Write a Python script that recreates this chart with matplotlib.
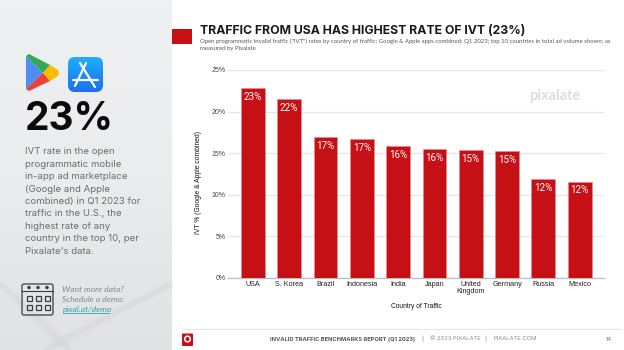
import numpy as np
import matplotlib
matplotlib.use('Agg')
import matplotlib.pyplot as plt
from matplotlib.colors import LinearSegmentedColormap
from matplotlib.patches import Rectangle, FancyBboxPatch, Polygon, Circle

countries = ['USA', 'S. Korea', 'Brazil', 'Indonesia', 'India', 'Japan',
             'United\nKingdom', 'Germany', 'Russia', 'Mexico']
ivt = [22.8, 21.5, 16.9, 16.7, 15.85, 15.5, 15.35, 15.25, 11.85, 11.55]
bar_labels = ['23%', '22%', '17%', '17%', '16%', '16%', '15%', '15%', '12%', '12%']
y_ticks = [0, 5, 10, 15, 20, 25]
side_lines = ['IVT rate in the open', 'programmatic mobile', 'in-app ad marketplace',
              '(Google and Apple', 'combined) in Q1 2023 for', 'traffic in the U.S., the',
              'highest rate of any', 'country in the top 10, per', "Pixalate's data."]

W, H = 624, 350
RED = '#c70f16'
fig = plt.figure(figsize=(W / 100, H / 100), dpi=100, facecolor='white')

# page layer in pixel coords
bg = fig.add_axes([0, 0, 1, 1])
bg.axis('off')

# grey side panel with a soft gradient
grad = np.linspace(0, 1, 60).reshape(-1, 1)
bg.imshow(grad, extent=(0, 172, H, 0), aspect='auto', zorder=0,
          cmap=LinearSegmentedColormap.from_list('p', ['#eef0f1', '#eaeced', '#e0e2e3']))
for lw, a in [(7, 0.15), (3.5, 0.25)]:
    bg.plot([45, 172], [350, 283], color='#cfd1d2', lw=lw, alpha=a, zorder=1, solid_capstyle='butt')
    bg.plot([0, 70], [283, 350], color='#cfd1d2', lw=lw, alpha=a, zorder=1, solid_capstyle='butt')

# play store icon
bg.add_patch(Polygon([(26, 56), (26, 89), (43, 73)], color='#4f8df5', zorder=2, lw=0))
bg.add_patch(Polygon([(26, 56), (29, 54), (50, 65), (43, 73)], color='#34a853', zorder=2, lw=0))
bg.add_patch(Polygon([(26, 89), (29, 91), (50, 81), (43, 73)], color='#ea4335', zorder=2, lw=0))
bg.add_patch(Polygon([(50, 65), (58, 70), (59, 73), (58, 76), (50, 81), (43, 73)], color='#fbbc04', zorder=3, lw=0))

# app store icon
tile = FancyBboxPatch((68, 57), 35, 35, boxstyle='round,pad=0,rounding_size=7', fc='none', ec='none')
bg.add_patch(tile)
blue = bg.imshow(grad, extent=(68, 103, 92, 57), aspect='auto', zorder=2,
                 cmap=LinearSegmentedColormap.from_list('b', ['#1eaefc', '#1c6ff0']))
blue.set_clip_path(tile)
for xs, ys in [([86, 75], [63, 86]), ([80, 95], [63, 87]), ([73, 98], [80, 80])]:
    bg.plot(xs, ys, color='white', lw=1.6, zorder=3, solid_capstyle='round')

bg.text(25, 120, '23%', fontsize=28, fontweight='bold', family='Inter', color='#0b0b0b', va='center', zorder=3)
for i, line in enumerate(side_lines):
    bg.text(25, 152 + 12.4 * i, line, fontsize=6.9, family='Inter', color='#6a6d6f', va='center', zorder=3)

# calendar icon
bg.add_patch(FancyBboxPatch((22, 284), 31, 31, boxstyle='round,pad=0,rounding_size=2', fc='none', ec='#3c3c3c',
                            lw=0.9, zorder=3))
bg.plot([22, 53], [290.5, 290.5], color='#3c3c3c', lw=0.8, zorder=3)
for cx in [29, 38, 47]:
    bg.add_patch(Circle((cx, 287.5), 1, color='#3c3c3c', zorder=3))
    for cy in [298, 307.5]:
        bg.add_patch(Rectangle((cx - 2.5, cy - 2.5), 5, 5, fc='none', ec='#3c3c3c', lw=0.9, zorder=3))

bg.text(62.5, 290, 'Want more data?', fontsize=6.1, family='Lato', style='italic', color='#85878a', va='center', zorder=3)
bg.text(62.5, 300, 'Schedule a demo:', fontsize=6.1, family='Lato', style='italic', color='#85878a', va='center', zorder=3)
bg.text(62.5, 309.5, 'pixal.at/demo', fontsize=6.1, family='Lato', style='italic', color='#2aa3ad', va='center', zorder=3)
bg.plot([62.5, 109], [312.5, 312.5], color='#2aa3ad', lw=0.6, zorder=3)

# title block
bg.add_patch(Rectangle((172, 29), 20, 15, color=RED, lw=0, zorder=2))
bg.text(200, 30.5, 'TRAFFIC FROM USA HAS HIGHEST RATE OF IVT (23%)', fontsize=8.85, fontweight='bold',
        family='Inter', color='#1a1a1a', va='center')
bg.text(200, 41.7, 'Open programmatic invalid traffic ("IVT") rates by country of traffic; Google & Apple apps combined; Q1 2023; top 10 countries in total ad volume shown; as',
        fontsize=4.35, family='Lato', color='#55585a', va='center')
bg.text(200, 48.7, 'measured by Pixalate', fontsize=4.35, family='Lato', color='#55585a', va='center')

# footer
bg.plot([182, 621], [329, 329], color='#e6e6e6', lw=0.8)
bg.add_patch(FancyBboxPatch((182, 333.5), 11, 12.5, boxstyle='round,pad=0,rounding_size=1', color=RED, lw=0))
bg.add_patch(Circle((187.5, 339), 2.8, fc='none', ec='white', lw=1.1))
bg.text(270, 339, 'INVALID TRAFFIC BENCHMARKS REPORT (Q1 2023)', fontsize=4.15, fontweight='bold', family='Inter',
        color='#55585a', va='center')
bg.text(422, 339, '|', fontsize=4.2, family='Inter', color='#77797b', va='center', ha='center')
bg.text(430, 339, '© 2023 PIXALATE', fontsize=4.2, family='Inter', color='#8a8c8e', va='center')
bg.text(485, 339, '|', fontsize=4.2, family='Inter', color='#77797b', va='center', ha='center')
bg.text(493, 339, 'PIXALATE.COM', fontsize=4.2, family='Inter', color='#8a8c8e', va='center')
bg.text(609, 339.5, '14', fontsize=4.2, family='Inter', color='#77797b', va='center', ha='center')

bg.text(199, 182, 'IVT % (Google & Apple combined)', rotation=90, fontsize=4.9, family='Liberation Sans',
        color='#111111', ha='center', va='center')
bg.text(416, 306.7, 'Country of Traffic', fontsize=4.8, family='Liberation Sans', color='#111111',
        ha='center', va='center')
bg.set_xlim(0, W)
bg.set_ylim(H, 0)

# chart
left, right, top, bottom = 228, 604, 70, 277.7
ax = fig.add_axes([left / W, 1 - bottom / H, (right - left) / W, (bottom - top) / H])
ax.patch.set_alpha(0)
x = np.arange(len(countries))
ax.grid(axis='y', color='#e6e6e6', lw=0.9)
ax.set_axisbelow(True)
ax.bar(x, ivt, width=0.655, color=RED, edgecolor='#e58a8e', linewidth=0.4, zorder=3)
ax.set_xlim(-0.683, 9.67)
ax.set_ylim(0, 25)
ax.set_yticks(y_ticks)
ax.set_yticklabels([f'{t}%' for t in y_ticks], fontsize=5, family='Liberation Sans', color='#444444')
ax.set_xticks(x)
ax.set_xticklabels(countries, fontsize=5.2, family='Liberation Sans', color='#222222', linespacing=1.0)
ax.tick_params(axis='x', length=0, pad=2.6)
ax.tick_params(axis='y', length=0, pad=1.5)
for s in ['top', 'right', 'left']:
    ax.spines[s].set_visible(False)
ax.spines['bottom'].set_color('#bdbdbd')
ax.spines['bottom'].set_linewidth(0.9)
for xi, v, lab in zip(x, ivt, bar_labels):
    ax.annotate(lab, (xi, v), xytext=(0, -6.2), textcoords='offset points', ha='center', va='center',
                color='white', fontsize=7.1, family='Roboto', zorder=4)

fig.text(555 / W, 1 - 96 / H, 'pixalate', fontsize=10.5, family='Lato', fontweight='bold',
         color='#dedede', ha='center', va='center')

fig.savefig('out.png', dpi=100)
